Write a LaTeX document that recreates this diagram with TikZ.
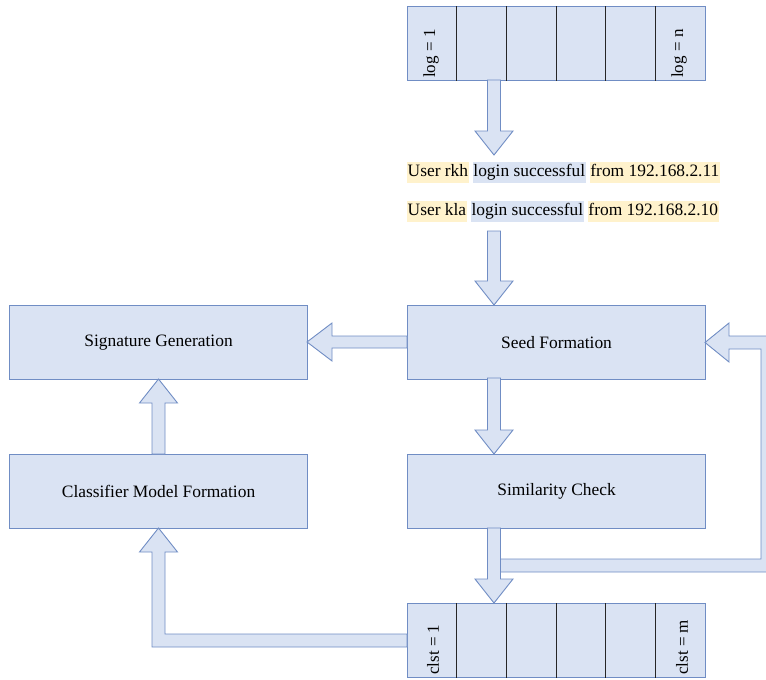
\documentclass[tikz,border=0pt]{standalone}
\usepackage{fontspec}
\setmainfont{Liberation Serif}
\definecolor{boxfill}{RGB}{218,227,243}
\definecolor{boxline}{RGB}{112,141,196}
\definecolor{hly}{RGB}{255,242,204}
\definecolor{hlb}{RGB}{218,227,243}
\newcommand\mydownfat[3]{%
  \draw[fat] (#1-6.5,#2) -- (#1-6.5,#3-24) -- (#1-19,#3-24) -- (#1,#3) -- (#1+19,#3-24) -- (#1+6.5,#3-24) -- (#1+6.5,#2) -- cycle;}
\begin{document}
\begin{tikzpicture}[x=1pt,y=-1pt,
  blk/.style={draw=boxline, fill=boxfill, line width=1.1pt, minimum width=298pt, minimum height=74pt, inner sep=0pt, anchor=north west, font=\fontsize{17.4}{20}\selectfont},
  fat/.style={draw=boxline, fill=boxfill, line width=0.9pt, line join=miter},
  div/.style={draw=black!85, line width=0.9pt},
  rot/.style={rotate=90, anchor=west, inner sep=0pt, font=\fontsize{17}{20}\selectfont},
  logline/.style={anchor=west, inner sep=0pt, font=\fontsize{17.4}{20}\selectfont},
]
\useasboundingbox (0,0) rectangle (766,680);
\setlength\fboxsep{0.5pt}
% boxes
\node[blk] (logs) at (407,6) {};
\node[blk] (seed) at (407,305) {Seed Formation};
\node[blk] (sig) at (9,305) {Signature Generation};
\node[blk] (sim) at (407,454) {Similarity Check};
\node[blk] (cls) at (9,454) {Classifier Model Formation};
\node[blk] (clst) at (407,603) {};
% cell dividers
\foreach \i in {1,...,5} {
  \draw[div] ([xshift=\i*49.67pt]logs.north west) -- ([xshift=\i*49.67pt]logs.south west);
  \draw[div] ([xshift=\i*49.67pt]clst.north west) -- ([xshift=\i*49.67pt]clst.south west);
}
\node[rot] (log1) at (431,78) {log = 1};
\node[rot] (logn) at (679,78) {log = n};
\node[rot] (c1) at (433,675) {clst = 1};
\node[rot] (cm) at (682,675) {clst = m};
% log lines
\node[logline] (l1) at (407,172) {\colorbox{hly}{\strut User rkh} \colorbox{hlb}{\strut login successful} \colorbox{hly}{\strut from 192.168.2.11}};
\node[logline] (l2) at (407,211) {\colorbox{hly}{\strut User kla} \colorbox{hlb}{\strut login successful} \colorbox{hly}{\strut from 192.168.2.10}};
% block arrows
\mydownfat{494}{80}{155}
\mydownfat{494}{231}{305}
\mydownfat{494}{378}{454}
\mydownfat{494}{528}{603}
% seed -> signature (left)
\draw[fat] (407,336) -- (332,336) -- (332,323) -- (307,342) -- (332,361) -- (332,348) -- (407,348) -- cycle;
% classifier -> signature (up)
\draw[fat] (152,454) -- (152,403) -- (139.5,403) -- (158.5,379) -- (177.5,403) -- (165,403) -- (165,454) -- cycle;
% feedback similarity -> seed
\draw[fat] (500.5,559) -- (761,559) -- (761,349) -- (729,349) -- (729,362) -- (705,342.5) -- (729,323) -- (729,336) -- (774,336) -- (774,572) -- (500.5,572) -- cycle;
% clst -> classifier
\draw[fat] (407,634) -- (165,634) -- (165,552) -- (177.5,552) -- (158.5,528) -- (139.5,552) -- (152,552) -- (152,647) -- (407,647) -- cycle;
\end{tikzpicture}
\end{document}
